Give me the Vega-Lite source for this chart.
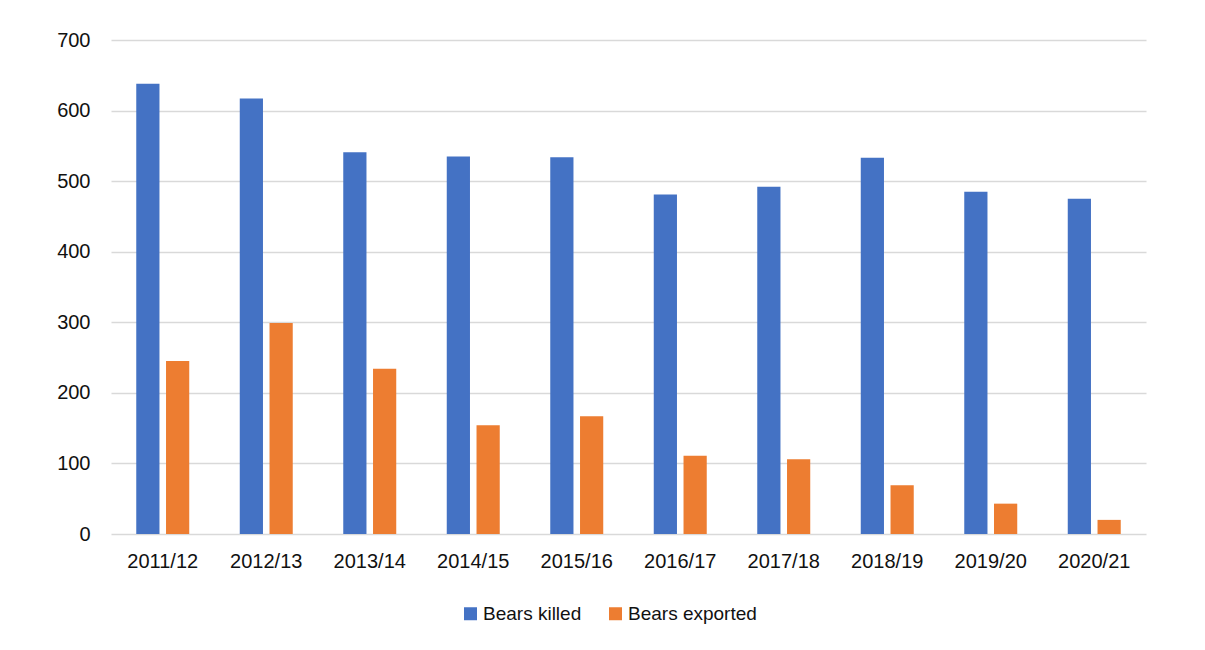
{
  "$schema": "https://vega.github.io/schema/vega-lite/v6.json",
  "width": 1035,
  "height": 494,
  "autosize": {"type": "none"},
  "padding": {"left": 111, "top": 40, "right": 59, "bottom": 116},
  "background": "#ffffff",
  "config": {
    "font": "Liberation Sans",
    "view": {"stroke": null},
    "axis": {"labelFont": "Liberation Sans", "labelColor": "#111111"},
    "legend": {"labelFont": "Liberation Sans"}
  },
  "data": {
    "values": [
      {"season": "2011/12", "series": "Bears killed", "bears": 638},
      {"season": "2011/12", "series": "Bears exported", "bears": 245},
      {"season": "2012/13", "series": "Bears killed", "bears": 617},
      {"season": "2012/13", "series": "Bears exported", "bears": 299},
      {"season": "2013/14", "series": "Bears killed", "bears": 541},
      {"season": "2013/14", "series": "Bears exported", "bears": 234},
      {"season": "2014/15", "series": "Bears killed", "bears": 535},
      {"season": "2014/15", "series": "Bears exported", "bears": 154},
      {"season": "2015/16", "series": "Bears killed", "bears": 534},
      {"season": "2015/16", "series": "Bears exported", "bears": 167},
      {"season": "2016/17", "series": "Bears killed", "bears": 481},
      {"season": "2016/17", "series": "Bears exported", "bears": 111},
      {"season": "2017/18", "series": "Bears killed", "bears": 492},
      {"season": "2017/18", "series": "Bears exported", "bears": 106},
      {"season": "2018/19", "series": "Bears killed", "bears": 533},
      {"season": "2018/19", "series": "Bears exported", "bears": 69},
      {"season": "2019/20", "series": "Bears killed", "bears": 485},
      {"season": "2019/20", "series": "Bears exported", "bears": 43},
      {"season": "2020/21", "series": "Bears killed", "bears": 475},
      {"season": "2020/21", "series": "Bears exported", "bears": 20}
    ]
  },
  "mark": {"type": "bar"},
  "encoding": {
    "x": {
      "field": "season",
      "type": "nominal",
      "sort": null,
      "title": null,
      "scale": {"paddingInner": 0.488, "paddingOuter": 0.244},
      "axis": {
        "domain": false,
        "ticks": false,
        "grid": false,
        "labelAngle": 0,
        "labelFontSize": 20,
        "labelPadding": 17
      }
    },
    "xOffset": {
      "field": "series",
      "type": "nominal",
      "sort": ["Bears killed", "Bears exported"],
      "scale": {"paddingInner": 0.22, "paddingOuter": 0}
    },
    "y": {
      "field": "bears",
      "type": "quantitative",
      "title": null,
      "scale": {"domain": [0, 700], "nice": false},
      "axis": {
        "values": [0, 100, 200, 300, 400, 500, 600, 700],
        "domain": false,
        "ticks": false,
        "labelFontSize": 20,
        "labelPadding": 21,
        "gridColor": "#d9d9d9",
        "gridWidth": 1.6
      }
    },
    "color": {
      "field": "series",
      "type": "nominal",
      "title": null,
      "scale": {
        "domain": ["Bears killed", "Bears exported"],
        "range": ["#4472C4", "#ED7D31"]
      },
      "legend": {
        "orient": "none",
        "direction": "horizontal",
        "legendX": 350,
        "legendY": 564,
        "symbolType": "square",
        "symbolSize": 169,
        "symbolStrokeWidth": 0,
        "labelFontSize": 19,
        "labelColor": "#111111",
        "labelOffset": 3,
        "columnPadding": 24,
        "labelLimit": 300
      }
    }
  }
}
